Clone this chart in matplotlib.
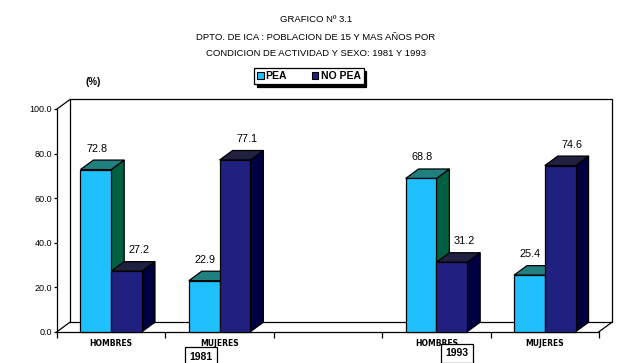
import matplotlib
matplotlib.use("Agg")
import matplotlib.pyplot as plt
from matplotlib.patches import Polygon, Patch

plt.rcParams['font.family'] = ['Liberation Sans', 'DejaVu Sans']

# datos
categorias = ["HOMBRES", "MUJERES", "", "HOMBRES", "MUJERES"]
pea = [72.8, 22.9, None, 68.8, 25.4]
no_pea = [27.2, 77.1, None, 31.2, 74.6]
anios = ["1981", "1993"]
titulo = ["GRAFICO Nº 3.1",
          "DPTO. DE ICA : POBLACION DE 15 Y MAS AÑOS POR",
          "CONDICION DE ACTIVIDAD Y SEXO: 1981 Y 1993"]

# colores (frente, tapa, lado)
col_pea = ("#20C0FF", "#208080", "#006040")
col_nopea = ("#202080", "#202040", "#000040")

W, H = 639, 363
fig = plt.figure(figsize=(W / 100, H / 100), dpi=100)
fig.patch.set_facecolor("white")

# eje frontal
x0_px, x1_px, y0_px, y1_px = 57, 599, 331.7, 109
ax = fig.add_axes([x0_px / W, (H - y0_px) / H, (x1_px - x0_px) / W, (y0_px - y1_px) / H])
ax.set_xlim(0, len(categorias))
ax.set_ylim(0, 100)

# profundidad en unidades de datos
px_x = (x1_px - x0_px) / len(categorias)
px_y = (y0_px - y1_px) / 100
dx = 13 / px_x
dy = 9.5 / px_y
w = 0.284

for s in ["top", "right"]:
    ax.spines[s].set_visible(False)
for s in ["left", "bottom"]:
    ax.spines[s].set_linewidth(0.9)

# paredes del fondo
n = len(categorias)
lk = dict(color="black", lw=0.9, clip_on=False, zorder=1)
ax.plot([dx, n + dx, n + dx, dx, dx], [dy, dy, 100 + dy, 100 + dy, dy], **lk)
ax.plot([0, dx], [0, dy], **lk)
ax.plot([n, n + dx], [0, dy], **lk)
ax.plot([0, dx], [100, 100 + dy], **lk)


def barra3d(x, h, cols, z, off):
    ax.bar(x, h, width=w, align="edge", color=cols[0], edgecolor="black",
           linewidth=0.9, zorder=z + 0.2, clip_on=False)
    top = Polygon([(x, h), (x + dx, h + dy), (x + w + dx, h + dy), (x + w, h)],
                  closed=True, facecolor=cols[1], edgecolor="black", lw=0.9,
                  zorder=z + 0.1, clip_on=False)
    side = Polygon([(x + w, 0), (x + w, h), (x + w + dx, h + dy), (x + w + dx, dy)],
                   closed=True, facecolor=cols[2], edgecolor="black", lw=0.9,
                   zorder=z, clip_on=False)
    ax.add_patch(top)
    ax.add_patch(side)
    ax.text(x + w / 2 + off / px_x, h + 21 / px_y, "%.1f" % h, ha="center", va="center",
            fontsize=7.8, zorder=10)


for i in range(n):
    if pea[i] is None:
        continue
    c = i + 0.5
    barra3d(c - w, pea[i], col_pea, 3, 1)
    barra3d(c, no_pea[i], col_nopea, 4, 12)

# ejes
ax.set_yticks(range(0, 101, 20))
ax.set_yticklabels(["%.1f" % v for v in range(0, 101, 20)], fontsize=6.5)
ax.tick_params(axis="y", length=2.5, width=0.9, pad=1)
ax.set_xticks([i + 0.5 for i in range(n)])
ax.set_xticklabels(categorias, fontsize=5.5, fontweight="bold", family="DejaVu Sans")
ax.tick_params(axis="x", length=0, pad=5)
ax.set_xticks(range(n + 1), minor=True)
ax.tick_params(axis="x", which="minor", length=4, width=0.9)
ax.patch.set_alpha(0)

# años
caja = dict(boxstyle="square,pad=0.4", fc="white", ec="black", lw=0.9)
fig.text(201 / W, 1 - 356.5 / H, anios[0], ha="center", va="center", fontsize=7.5,
         fontweight="bold", bbox=caja)
fig.text(457 / W, 1 - 353.5 / H, anios[1], ha="center", va="center", fontsize=7.5,
         fontweight="bold", bbox=caja)

# titulo
for t, y in zip(titulo, [20, 37.7, 53]):
    fig.text(316 / W, 1 - y / H, t, ha="center", va="center", fontsize=6.8)

fig.text(93 / W, 1 - 82 / H, "(%)", ha="center", va="center", fontsize=7, fontweight="bold")

# leyenda
handles = [Patch(facecolor=col_pea[0], edgecolor="black", lw=0.8, label="PEA"),
           Patch(facecolor=col_nopea[0], edgecolor="black", lw=0.8, label="NO PEA")]
leg = fig.legend(handles=handles, loc="center", bbox_to_anchor=(309 / W, 1 - 76 / H),
                 ncol=2, frameon=True, fancybox=False, shadow={"color": "black", "alpha": 1},
                 handlelength=0.6, handleheight=0.6, handletextpad=0.2, columnspacing=2.4,
                 borderpad=0.3, borderaxespad=0, prop=dict(size=7.5, weight="bold"))
leg.get_frame().set_edgecolor("black")
leg.get_frame().set_linewidth(0.9)

fig.savefig("out.png", dpi=100)
